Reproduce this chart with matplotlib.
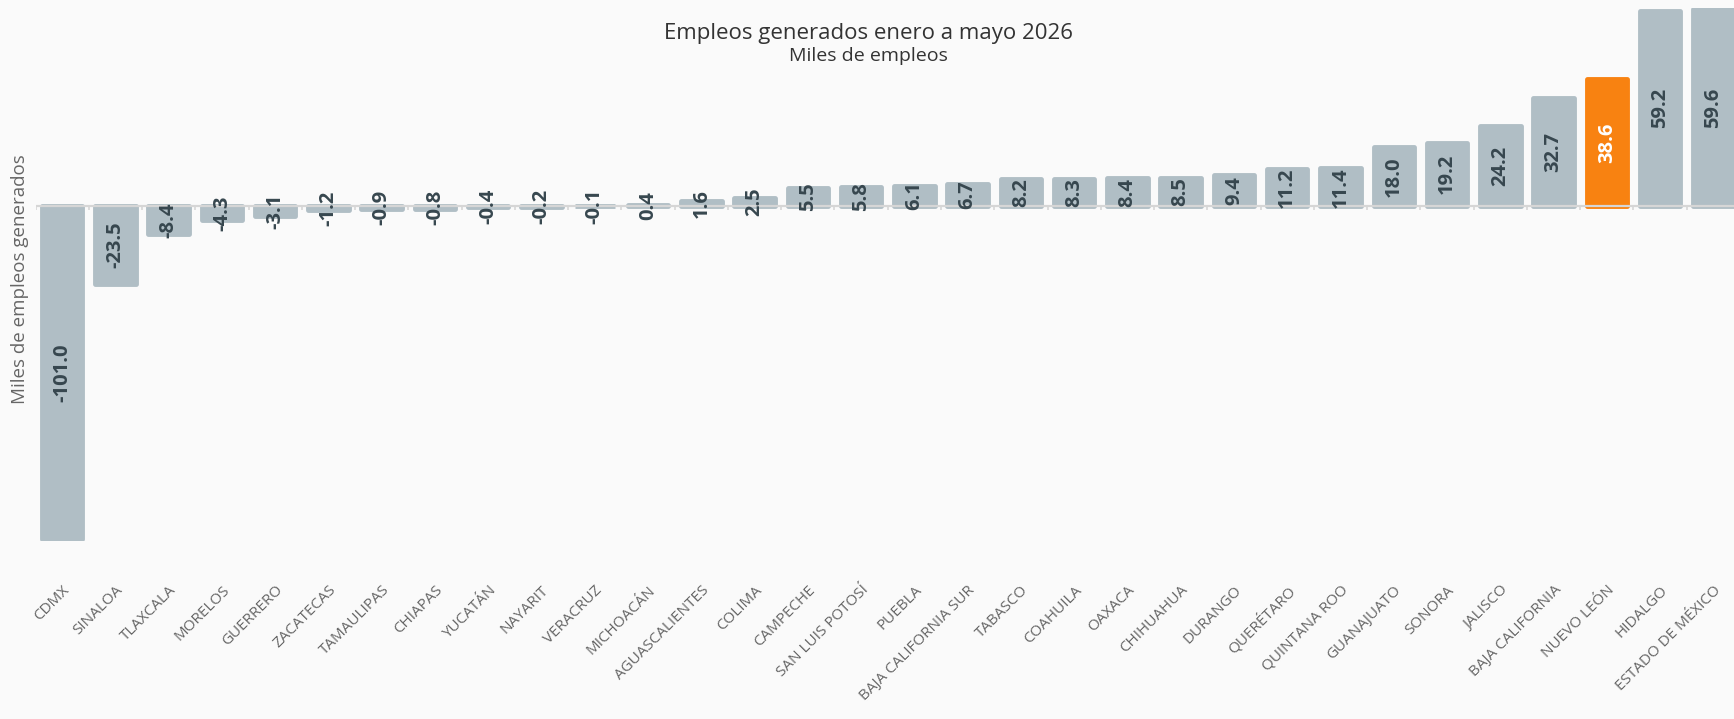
import matplotlib.pyplot as plt

# Datos: empleos generados enero a mayo 2026 (miles)
estados = ["CDMX", "SINALOA", "TLAXCALA", "MORELOS", "GUERRERO", "ZACATECAS",
           "TAMAULIPAS", "CHIAPAS", "YUCATÁN", "NAYARIT", "VERACRUZ", "MICHOACÁN",
           "AGUASCALIENTES", "COLIMA", "CAMPECHE", "SAN LUIS POTOSÍ", "PUEBLA",
           "BAJA CALIFORNIA SUR", "TABASCO", "COAHUILA", "OAXACA", "CHIHUAHUA",
           "DURANGO", "QUERÉTARO", "QUINTANA ROO", "GUANAJUATO", "SONORA",
           "JALISCO", "BAJA CALIFORNIA", "NUEVO LEÓN", "HIDALGO", "ESTADO DE MÉXICO"]
empleos = [-101.0, -23.5, -8.4, -4.3, -3.1, -1.2, -0.9, -0.8, -0.4, -0.2, -0.1,
           0.4, 1.6, 2.5, 5.5, 5.8, 6.1, 6.7, 8.2, 8.3, 8.4, 8.5, 9.4, 11.2,
           11.4, 18.0, 19.2, 24.2, 32.7, 38.6, 59.2, 59.6]
destacado = "NUEVO LEÓN"

GRIS = "#b0bec5"
NARANJA = "#f88211"
FONDO = "#fafafa"
TEXTO = "#37474f"

plt.rcParams['font.family'] = ['Open Sans', 'DejaVu Sans']

fig = plt.figure(figsize=(17.34, 7.19), dpi=100, facecolor=FONDO)
W, H = 1734, 719
ax = fig.add_axes([35.5 / W, 1 - 541 / H, (1740 - 35.5) / W, (541 - 8) / H])
ax.set_facecolor(FONDO)

x = list(range(len(estados)))
colores = [NARANJA if e == destacado else GRIS for e in estados]
ax.bar(x, empleos, width=0.76, color=colores, edgecolor=colores,
       linewidth=3.5, joinstyle='round', zorder=2)

# linea del cero con marcas entre categorias
ax.axhline(0, color="#d6d6d6", lw=1.6, zorder=3)
ax.vlines([i + 0.5 for i in range(-1, len(estados))], -1.2, 0,
          color="#d6d6d6", lw=1.2, zorder=3)

# etiquetas de valor
for i, v in enumerate(empleos):
    col = "white" if estados[i] == destacado else TEXTO
    ax.text(i, v / 2, f"{v:.1f}", rotation=90, ha='center', va='center',
            fontsize=14.5, fontweight='bold', color=col, zorder=4)

ax.set_xlim(-0.5, len(estados) - 0.5)
ax.set_ylim(-101.5, 60)
ax.set_xticks(x)
ax.set_xticklabels(estados, rotation=45, ha='right', va='top',
                   rotation_mode='anchor', fontsize=11, color="#666666")
ax.tick_params(axis='x', length=0, pad=30)
ax.set_yticks([])
for s in ax.spines.values():
    s.set_visible(False)

fig.text(20 / W, 1 - 279 / H, "Miles de empleos generados", rotation=90,
         ha='center', va='center', fontsize=13.5, color="#666666")
fig.text(868 / W, 1 - 34 / H, "Empleos generados enero a mayo 2026",
         ha='center', va='center', fontsize=16, color="#333333")
fig.text(868 / W, 1 - 56 / H, "Miles de empleos",
         ha='center', va='center', fontsize=14, color="#333333")

fig.savefig("out.png", dpi=100, facecolor=FONDO)
